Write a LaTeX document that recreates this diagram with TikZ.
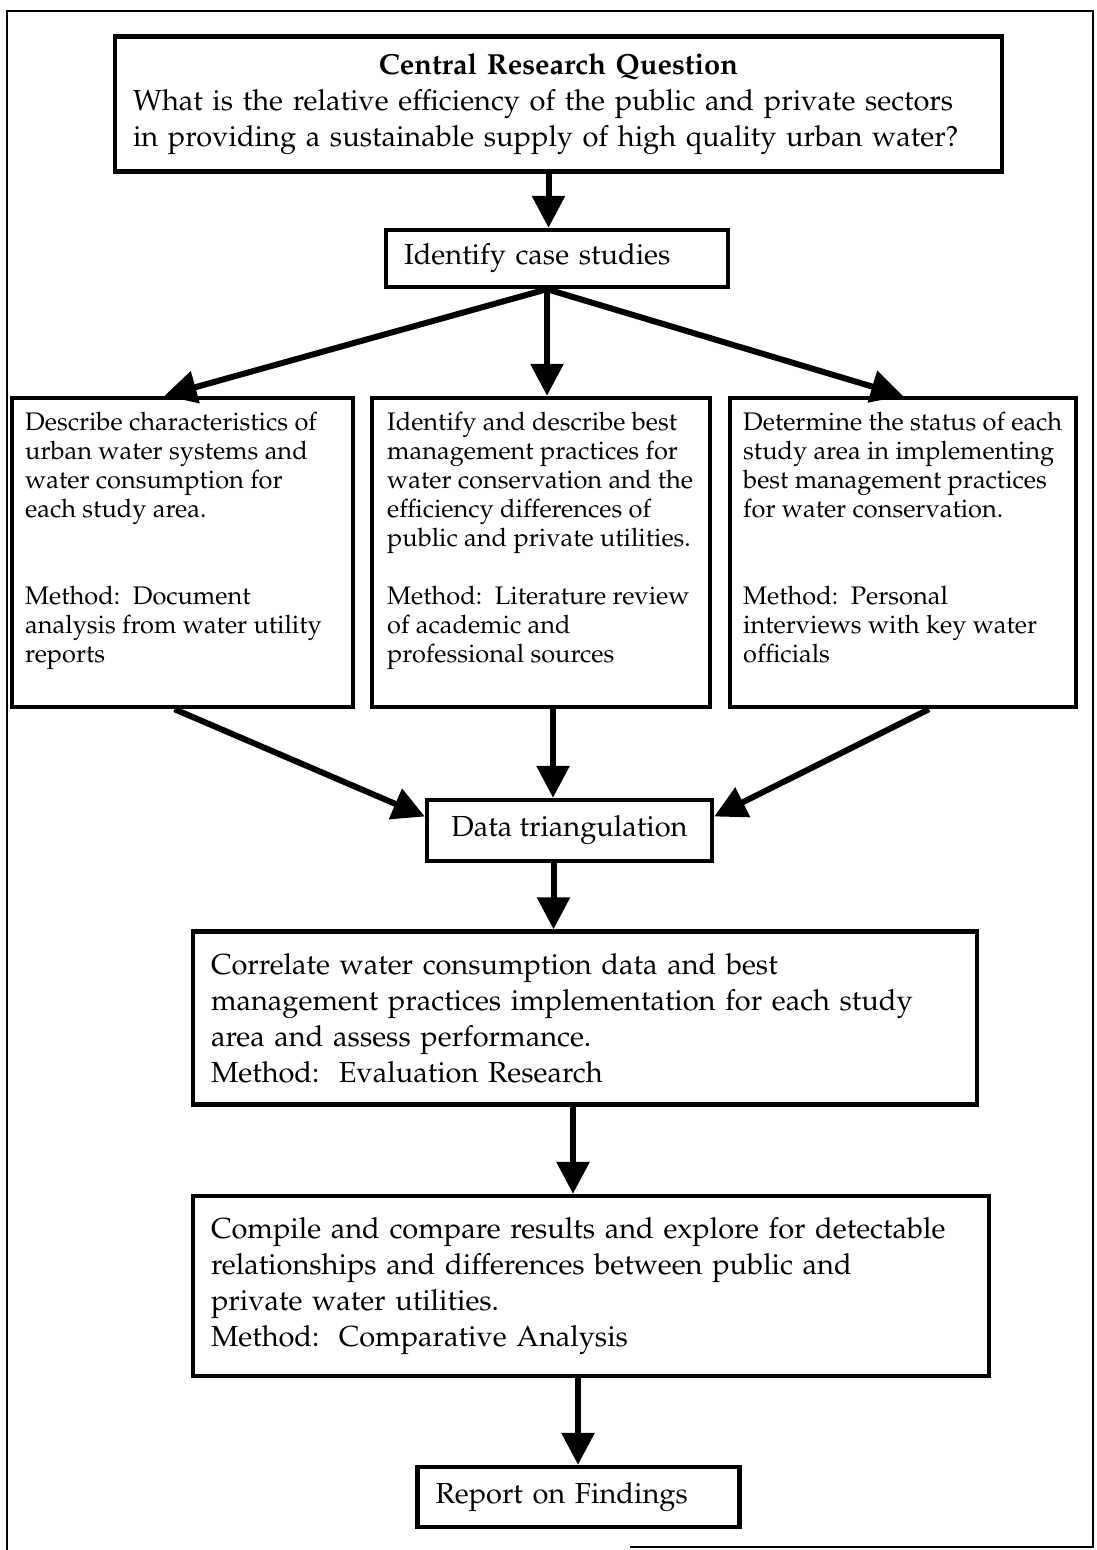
\documentclass[tikz,border=0pt]{standalone}
\usepackage[T1]{fontenc}
\usepackage{mathpazo}
\usetikzlibrary{arrows.meta}

\tikzset{
  box/.style={draw, line width=2.2pt, inner xsep=9pt, inner ysep=0pt, align=left},
  bigtext/.style={font=\fontsize{14.5}{18}\selectfont},
  smalltext/.style={font=\fontsize{12.7}{14.5}\selectfont, align=left, inner sep=0pt, anchor=north west},
  flow/.style={line width=3pt, -{Triangle[length=16pt,width=16pt]}},
  frame/.style={line width=1.3pt}
}

\begin{document}
\begin{tikzpicture}[x=0.5pt, y=-0.5pt]
\useasboundingbox (0,0) rectangle (1096,1550);
\draw[frame] (630,1547) -- (1093,1547) -- (1093,11) -- (7,11) -- (7,1550);

% question and case studies
\node[box, bigtext, text width=425.5pt, minimum height=67.5pt] (crq) at (558.5,104)
  {\hbox to\hsize{\hfil\bfseries Central Research Question\hfil}\\
   What is the relative efficiency of the public and private sectors\\
   in providing a sustainable supply of high quality urban water?};
\node[box, bigtext, text width=153pt, minimum height=28.5pt] (cases) at (557,258.5) {Identify case studies};

% the three strands
\node[box, minimum width=170.5pt, minimum height=154.5pt] (chars) at (182.5,552.5) {};
\node[box, minimum width=169pt, minimum height=154.5pt] (bmp) at (541,552.5) {};
\node[box, minimum width=173pt, minimum height=154.5pt] (status) at (903,552.5) {};
\node[smalltext] (chars text) at ([xshift=7.5pt,yshift=-7.8pt]chars.north west)
  {Describe characteristics of\\ urban water systems and\\ water consumption for\\ each study area.\\[29pt]
   Method:\ \ Document\\ analysis from water utility\\ reports};
\node[smalltext] (bmp text) at ([xshift=8.5pt,yshift=-7.8pt]bmp.north west)
  {Identify and describe best\\ management practices for\\ water conservation and the\\ efficiency differences of\\ public and private utilities.\\[14.5pt]
   Method:\ \ Literature review\\ of academic and\\ professional sources};
\node[smalltext] (status text) at ([xshift=7.5pt,yshift=-7.8pt]status.north west)
  {Determine the status of each\\ study area in implementing\\ best management practices\\ for water conservation.\\[29pt]
   Method:\ \ Personal\\ interviews with key water\\ officials};

% synthesis
\node[box, bigtext, minimum width=142.5pt, minimum height=30.5pt] (triang) at (569.5,830.5) {Data triangulation};
\node[box, bigtext, text width=374pt, minimum height=86.5pt] (correl) at (585,1018)
  {Correlate water consumption data and best\\
   management practices implementation for each study\\
   area and assess performance.\\
   Method:\ \ Evaluation Research};
\node[box, bigtext, text width=380pt, minimum height=90pt] (compare) at (591,1286)
  {Compile and compare results and explore for detectable\\
   relationships and differences between public and\\
   private water utilities.\\
   Method:\ \ Comparative Analysis};
\node[box, bigtext, text width=143pt, minimum height=30pt] (report) at (578.5,1497) {Report on Findings};

% arrows
\draw[flow] ([xshift=-5pt]crq.south) -- ([xshift=-5pt]crq.south |- cases.north);
\draw[flow] ([xshift=-5pt]cases.south) -- ([xshift=-9pt]chars.north);
\draw[flow] ([xshift=-5pt]cases.south) -- ([xshift=-5pt]cases.south |- bmp.north);
\draw[flow] ([xshift=-5pt]cases.south) -- (status.north);
\draw[flow] ([xshift=-4pt]chars.south) -- ([yshift=7pt]triang.west);
\draw[flow] ([xshift=6pt]bmp.south) -- ([xshift=6pt]bmp.south |- triang.north);
\draw[flow] ([xshift=13pt]status.south) -- ([yshift=7pt]triang.east);
\draw[flow] ([xshift=-8pt]triang.south) -- ([xshift=-8pt]triang.south |- correl.north);
\draw[flow] ([xshift=-6pt]correl.south) -- ([xshift=-6pt]correl.south |- compare.north);
\draw[flow] ([xshift=-6.5pt]compare.south) -- ([xshift=-6.5pt]compare.south |- report.north);
\end{tikzpicture}
\end{document}
